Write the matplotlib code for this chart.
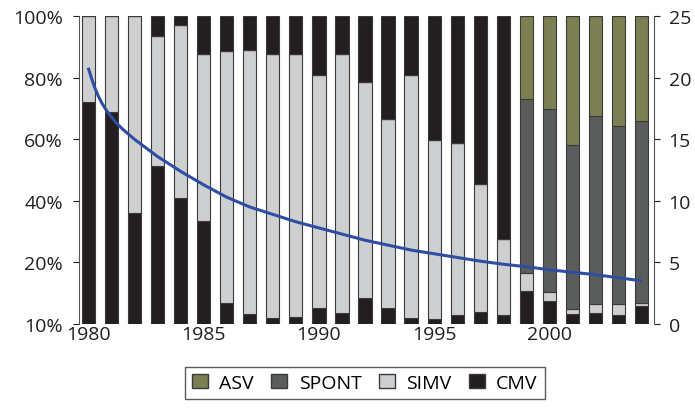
import matplotlib
matplotlib.use("Agg")
import matplotlib.pyplot as plt
from matplotlib.patches import Patch
import numpy as np

plt.rcParams['font.family'] = ['Open Sans', 'DejaVu Sans']

years = list(range(1980, 2005))
cmv = [72.0, 68.7, 35.9, 51.4, 40.9, 33.3, 6.8, 3.1, 1.8, 2.2, 5.1, 3.5, 8.4,
       5.1, 1.9, 1.6, 2.9, 3.8, 2.9, 10.6, 7.5, 3.3, 3.7, 2.9, 5.9]
simv = [28.0, 31.3, 64.1, 42.0, 56.2, 54.3, 81.7, 85.9, 85.8, 85.5, 75.8, 84.1,
        70.3, 61.4, 79.0, 58.0, 56.0, 41.7, 24.7, 6.0, 2.9, 1.7, 2.8, 3.6, 0.8]
spont = [0, 0, 0, 0, 0, 0, 0, 0, 0, 0, 0, 0, 0, 0, 0, 0, 0, 0, 0,
         56.5, 59.3, 53.1, 61.1, 57.7, 59.1]
asv = [0, 0, 0, 0, 0, 0, 0, 0, 0, 0, 0, 0, 0, 0, 0, 0, 0, 0, 0,
       26.9, 30.3, 41.9, 32.4, 35.8, 34.2]
other = [0.0, 0.0, 0.0, 6.6, 2.9, 12.4, 11.5, 11.0, 12.4, 12.3, 19.1, 12.4,
         21.3, 33.5, 19.1, 40.4, 41.1, 54.5, 72.4, 0, 0, 0, 0, 0, 0]

curve_x = [1980, 1980.15, 1980.3, 1980.45, 1980.6, 1980.75, 1980.9, 1981.2,
           1981.5, 1982, 1982.5, 1983, 1984, 1985, 1986, 1987, 1988, 1989,
           1990, 1991, 1992, 1993, 1994, 1995, 1996, 1997, 1998, 1999, 2000,
           2001, 2002, 2003, 2004]
curve_y = [20.8, 19.9, 19.1, 18.45, 17.9, 17.45, 17.05, 16.35,
           15.8, 15.0, 14.3, 13.6, 12.4, 11.3, 10.3, 9.5, 8.9, 8.3,
           7.8, 7.3, 6.8, 6.4, 6.0, 5.7, 5.4, 5.1, 4.85, 4.65, 4.4,
           4.2, 4.0, 3.75, 3.5]

left_ticks = [0, 20, 40, 60, 80, 100]
left_labels = ['10%', '20%', '40%', '60%', '80%', '100%']
right_ticks = [0, 5, 10, 15, 20, 25]
x_ticks = [1980, 1985, 1990, 1995, 2000]

c_cmv = '#231f20'
c_simv = '#cdcfd0'
c_spont = '#5a5d5c'
c_asv = '#7b7f52'
c_line = '#2f4ea3'
edge = '#3a3a3a'
txt = '#231f20'

fig = plt.figure(figsize=(6.95, 4.10), dpi=100)
ax = fig.add_axes([79 / 695, 1 - 325 / 410, (654 - 79) / 695, (325 - 17) / 410])

w = 0.58
x = np.array(years)
b = np.zeros(len(years))
for vals, col in [(cmv, c_cmv), (simv, c_simv), (spont, c_spont), (asv, c_asv), (other, c_cmv)]:
    v = np.array(vals, dtype=float)
    ax.bar(x, v, width=w, bottom=b, color=col, edgecolor=edge, linewidth=0.8)
    b = b + v

ax.set_xlim(1979.6, 2004.53)
ax.set_ylim(0, 100)
ax.set_yticks(left_ticks)
ax.set_yticklabels(left_labels)
ax.set_xticks(x_ticks)
ax.tick_params(axis='x', length=0, labelsize=14, pad=1, colors=txt)
ax.tick_params(axis='y', length=4.5, width=0.8, labelsize=14, colors=txt,
               direction='out', pad=7)
for s in ['top', 'right', 'bottom']:
    ax.spines[s].set_visible(False)
ax.spines['left'].set_color('#555555')

ax2 = ax.twinx()
ax2.set_ylim(0, 25)
ax2.set_yticks(right_ticks)
ax2.plot(curve_x, curve_y, color=c_line, linewidth=2.2, solid_capstyle='butt')
ax2.tick_params(axis='y', length=4.5, width=0.8, labelsize=14, colors=txt,
                direction='out', pad=6)
for s in ['top', 'left', 'bottom']:
    ax2.spines[s].set_visible(False)
ax2.spines['right'].set_color('#555555')

handles = [Patch(facecolor=c_asv, edgecolor=edge, label='ASV'),
           Patch(facecolor=c_spont, edgecolor=edge, label='SPONT'),
           Patch(facecolor=c_simv, edgecolor=edge, label='SIMV'),
           Patch(facecolor=c_cmv, edgecolor=edge, label='CMV')]
leg = fig.legend(handles=handles, loc='upper center', bbox_to_anchor=(0.525, 1 - 368 / 410),
                 ncol=4, fontsize=14, frameon=True, fancybox=False, edgecolor='#333333',
                 handlelength=0.8, handleheight=0.75, handletextpad=0.6,
                 columnspacing=0.9, borderpad=0.35, borderaxespad=0)
leg.get_frame().set_linewidth(1.0)

fig.savefig('out.png', dpi=100)
